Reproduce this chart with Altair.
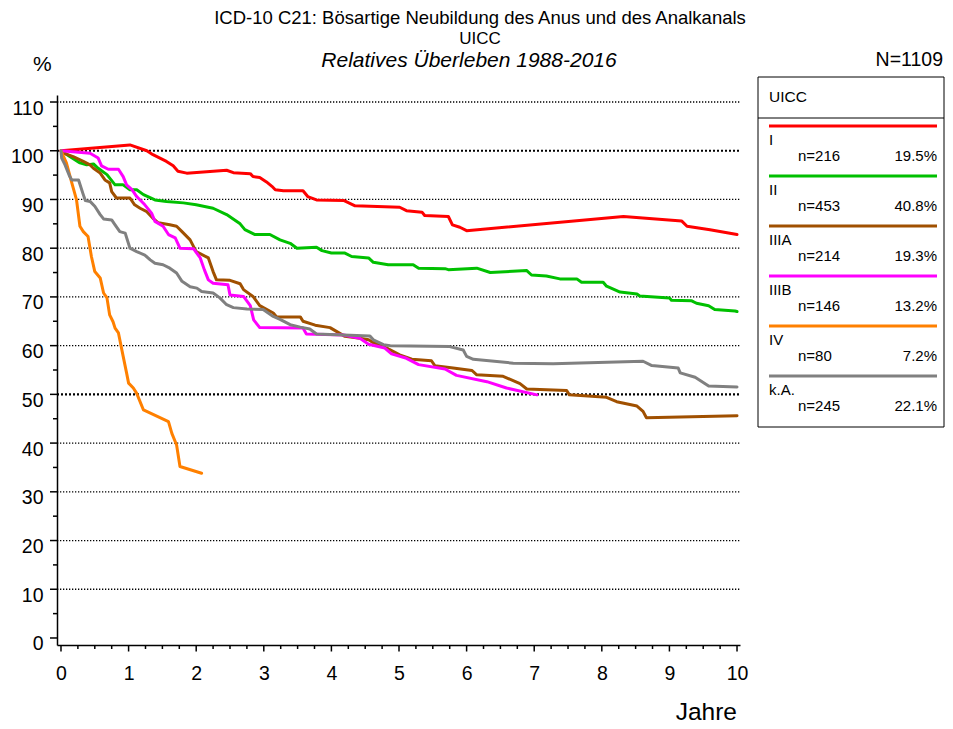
import altair as alt
import pandas as pd

FONT = "Liberation Sans"

title_line1 = "ICD-10 C21: Bösartige Neubildung des Anus und des Analkanals"
title_line2 = "UICC"
title_line3 = "Relatives Überleben 1988-2016"
y_unit = "%"
x_title = "Jahre"
total_text = "N=1109"
legend_title = "UICC"

groups = ["I", "II", "IIIA", "IIIB", "IV", "k.A."]
counts = [216, 453, 214, 146, 80, 245]
shares = ["19.5%", "40.8%", "19.3%", "13.2%", "7.2%", "22.1%"]
colors = ["#FF0000", "#00C000", "#A05000", "#FF00FF", "#FF8000", "#808080"]

x_ticks = [0, 1, 2, 3, 4, 5, 6, 7, 8, 9, 10]
y_ticks = [0, 10, 20, 30, 40, 50, 60, 70, 80, 90, 100, 110]
y_minor = [5, 15, 25, 35, 45, 55, 65, 75, 85, 95, 105]
x_minor = [q / 4 for q in range(41) if q % 4 != 0]
grid_values = [10, 20, 30, 40, 50, 60, 70, 80, 90, 100, 110]

curve_I = [(0, 100), (1.02, 101.2), (1.27, 100), (1.36, 99.2), (1.56, 97.8), (1.66, 96.9),
           (1.73, 95.8), (1.86, 95.4), (2.45, 96.0), (2.55, 95.5), (2.8, 95.3), (2.84, 94.7),
           (2.94, 94.5), (3.04, 93.6), (3.12, 92.7), (3.17, 92.0), (3.29, 91.8), (3.58, 91.8),
           (3.65, 90.6), (3.78, 89.9), (4.18, 89.8), (4.35, 88.7), (5.01, 88.4), (5.11, 87.7),
           (5.34, 87.4), (5.38, 86.7), (5.73, 86.5), (5.79, 84.8), (5.9, 84.3), (6.0, 83.6),
           (8.32, 86.5), (9.18, 85.6), (9.26, 84.5), (9.6, 83.8), (10.0, 82.8)]

curve_II = [(0, 100), (0.13, 98.8), (0.28, 97.5), (0.38, 97.1), (0.48, 97.3), (0.55, 96.4),
            (0.68, 95.1), (0.8, 93.0), (0.92, 93.0), (1.02, 92.0), (1.12, 92.0), (1.22, 91.0),
            (1.39, 89.9), (1.56, 89.6), (1.81, 89.3), (2.0, 88.9), (2.25, 88.2), (2.45, 86.9),
            (2.65, 85.0), (2.72, 83.8), (2.87, 82.8), (3.09, 82.8), (3.24, 81.7), (3.39, 81.0),
            (3.49, 80.0), (3.78, 80.2), (3.86, 79.5), (4.0, 79.0), (4.2, 79.0), (4.3, 78.3),
            (4.55, 78.0), (4.62, 77.1), (4.84, 76.6), (5.21, 76.6), (5.29, 75.9), (5.68, 75.8),
            (5.73, 75.6), (6.15, 75.9), (6.35, 75.0), (6.89, 75.4), (6.96, 74.5), (7.18, 74.3),
            (7.38, 73.7), (7.63, 73.7), (7.7, 73.0), (8.02, 73.0), (8.07, 72.2), (8.17, 71.6),
            (8.27, 71.0), (8.52, 70.6), (8.56, 70.2), (9.0, 69.8), (9.03, 69.3), (9.33, 69.2),
            (9.4, 68.7), (9.58, 68.2), (9.67, 67.4), (9.97, 67.1), (10.0, 67.0)]

curve_IIIA = [(0, 100), (0.06, 99.4), (0.18, 98.8), (0.33, 97.8), (0.43, 97.1), (0.48, 96.4),
              (0.58, 95.4), (0.65, 94.0), (0.72, 93.4), (0.75, 91.6), (0.82, 90.3), (1.02, 90.3),
              (1.09, 88.9), (1.17, 88.2), (1.27, 87.5), (1.37, 86.0), (1.44, 85.2), (1.61, 84.8),
              (1.71, 84.5), (1.79, 83.4), (1.91, 81.7), (2.0, 79.3), (2.18, 78.0), (2.25, 75.2),
              (2.3, 73.5), (2.5, 73.4), (2.65, 72.7), (2.7, 71.5), (2.84, 70.1), (2.94, 68.2),
              (3.14, 66.7), (3.19, 65.9), (3.54, 65.9), (3.58, 65.0), (3.76, 64.2), (3.98, 63.7),
              (4.2, 61.9), (4.42, 61.5), (4.55, 61.2), (4.62, 60.6), (4.82, 59.5), (5.01, 58.1),
              (5.19, 57.2), (5.48, 56.9), (5.53, 55.9), (5.8, 55.4), (6.08, 54.9), (6.15, 54.0),
              (6.54, 53.7), (6.79, 52.2), (6.89, 51.1), (7.48, 50.8), (7.52, 49.9), (8.07, 49.4),
              (8.22, 48.5), (8.52, 47.6), (8.61, 46.5), (8.66, 45.2), (10.0, 45.6)]

curve_IIIB = [(0, 100), (0.43, 99.5), (0.55, 98.5), (0.6, 96.9), (0.7, 96.2), (0.85, 96.2),
              (0.92, 94.7), (0.97, 93.0), (1.05, 92.0), (1.12, 90.6), (1.24, 88.9), (1.34, 87.2),
              (1.39, 85.5), (1.51, 84.5), (1.59, 82.8), (1.69, 82.1), (1.76, 80.0), (1.96, 79.9),
              (2.06, 78.0), (2.12, 75.6), (2.18, 73.5), (2.25, 72.8), (2.47, 72.5), (2.5, 70.4),
              (2.7, 70.1), (2.8, 68.2), (2.85, 65.3), (2.94, 63.7), (3.58, 63.6), (3.63, 62.4),
              (4.18, 62.2), (4.42, 61.5), (4.55, 60.3), (4.79, 59.5), (4.89, 58.3), (5.11, 57.4),
              (5.29, 56.1), (5.68, 55.2), (5.85, 53.9), (6.3, 52.6), (6.59, 51.3), (7.04, 49.9)]

curve_IV = [(0, 100), (0.08, 97.5), (0.16, 93.4), (0.23, 89.9), (0.28, 84.5), (0.33, 83.4),
            (0.4, 82.4), (0.45, 78.3), (0.5, 75.2), (0.58, 73.9), (0.63, 70.8), (0.68, 69.8),
            (0.72, 66.3), (0.77, 64.9), (0.8, 63.6), (0.85, 62.6), (0.92, 57.8), (0.97, 54.4),
            (1.0, 52.3), (1.07, 51.3), (1.12, 50.2), (1.22, 46.8), (1.59, 44.4), (1.64, 42.0),
            (1.71, 39.6), (1.76, 35.2), (2.08, 33.8)]

curve_kA = [(0, 100), (0.01, 98.5), (0.06, 97.1), (0.13, 94.7), (0.16, 94.0), (0.26, 94.0),
            (0.33, 91.0), (0.36, 89.8), (0.43, 89.6), (0.5, 88.6), (0.58, 86.9), (0.63, 86.0),
            (0.75, 85.8), (0.8, 84.8), (0.87, 83.4), (0.95, 83.1), (1.02, 80.0), (1.12, 79.3),
            (1.24, 78.6), (1.32, 77.6), (1.39, 76.9), (1.51, 76.6), (1.61, 75.9), (1.71, 74.9),
            (1.79, 73.2), (1.91, 72.1), (2.01, 71.8), (2.08, 71.1), (2.25, 70.8), (2.35, 69.8),
            (2.45, 68.4), (2.55, 67.8), (2.75, 67.5), (2.99, 67.4), (3.14, 66.0), (3.24, 65.4),
            (3.39, 64.3), (3.54, 63.8), (3.68, 63.4), (3.78, 62.4), (4.18, 62.2), (4.57, 62.0),
            (4.62, 61.2), (4.77, 60.2), (4.87, 60.0), (5.75, 59.8), (5.95, 59.1), (6.0, 57.8),
            (6.1, 57.2), (6.69, 56.4), (7.28, 56.3), (8.61, 56.8), (8.74, 55.9), (9.13, 55.4),
            (9.16, 54.4), (9.38, 53.5), (9.58, 51.7), (10.0, 51.5)]

curves = [curve_I, curve_II, curve_IIIA, curve_IIIB, curve_IV, curve_kA]

rows = []
for g, c in zip(groups, curves):
    for i, (t, v) in enumerate(c):
        rows.append({"group": g, "t": t, "v": v, "i": i})
df = pd.DataFrame(rows)

W, H = 683, 550
xs = alt.Scale(domain=[-0.059, 10.044], nice=False, zero=False)
ys = alt.Scale(domain=[-1.44, 111.44], nice=False, zero=False)
cs = alt.Scale(domain=groups, range=colors)
one = pd.DataFrame({"a": [0]})

x_axis = alt.Axis(
    values=x_ticks, ticks=False, tickSize=0, labelPadding=19, labelFontSize=19.5,
    labelFont=FONT, labelColor="black", domain=True, domainColor="black", domainWidth=1.5,
    grid=False, title="", labelFlush=False, labelOverlap=False, format="d")
y_axis = alt.Axis(
    values=y_ticks, ticks=False, tickSize=0, labelPadding=14, labelOffset=12,
    labelBaseline="alphabetic", labelFontSize=19.5, labelFont=FONT, labelColor="black",
    domain=True, domainColor="black", domainWidth=1.5, grid=False, title="",
    labelOverlap=False, labelFlush=False, format="d")

grid = alt.Chart(pd.DataFrame({"v": grid_values})).mark_rule(color="black").encode(
    y=alt.Y("v:Q", scale=ys, axis=y_axis),
    x=alt.value(0), x2=alt.value(W),
    strokeWidth=alt.condition("datum.v == 50 || datum.v == 100", alt.value(2.2), alt.value(1.3)),
    strokeDash=alt.condition("datum.v == 50 || datum.v == 100", alt.value([2, 2]), alt.value([1.3, 1.7])),
)

xmaj = alt.Chart(pd.DataFrame({"t": x_ticks})).mark_rule(color="black", strokeWidth=1.5).encode(
    x=alt.X("t:Q", scale=xs, axis=x_axis), y=alt.value(H), y2=alt.value(H + 6.5))
xmin = alt.Chart(pd.DataFrame({"t": x_minor})).mark_rule(color="black", strokeWidth=1.5).encode(
    x=alt.X("t:Q", scale=xs, axis=x_axis), y=alt.value(H), y2=alt.value(H + 4))
ymaj = alt.Chart(pd.DataFrame({"v": y_ticks})).mark_rule(color="black", strokeWidth=1.5).encode(
    y=alt.Y("v:Q", scale=ys, axis=y_axis), x=alt.value(-7), x2=alt.value(0))
ymin = alt.Chart(pd.DataFrame({"v": y_minor})).mark_rule(color="black", strokeWidth=1.5).encode(
    y=alt.Y("v:Q", scale=ys, axis=y_axis), x=alt.value(-4), x2=alt.value(0))

lines = alt.Chart(df).mark_line(strokeWidth=3, strokeJoin="round", strokeCap="round").encode(
    x=alt.X("t:Q", scale=xs, axis=x_axis),
    y=alt.Y("v:Q", scale=ys, axis=y_axis),
    color=alt.Color("group:N", scale=cs, legend=None),
    order=alt.Order("i:Q"),
)


def label(text, x, y, size, align="center", style="normal"):
    return alt.Chart(one).mark_text(
        text=text, fontSize=size, align=align, baseline="alphabetic", font=FONT,
        fontStyle=style, color="black").encode(x=alt.value(x), y=alt.value(y))


texts = [
    label(title_line1, 423, -71, 18.5),
    label(title_line2, 423, -51, 17),
    label(title_line3, 412, -28, 21, style="italic"),
    label(y_unit, -24, -24, 21, align="left"),
    label(total_text, 886, -29, 19.5, align="right"),
    label(x_title, 680, 625, 24.5, align="right"),
    label(legend_title, 712, 7, 15.5, align="left"),
]

box = alt.Chart(one).mark_rect(fillOpacity=0, stroke="black", strokeWidth=1).encode(
    x=alt.value(701), x2=alt.value(887), y=alt.value(-18), y2=alt.value(332))
divider = alt.Chart(one).mark_rule(color="black", strokeWidth=1).encode(
    x=alt.value(701), x2=alt.value(887), y=alt.value(23))

main = alt.layer(grid, xmaj, xmin, ymaj, ymin, lines, box, divider, *texts)

leg_df = pd.DataFrame({
    "group": groups,
    "slot": list(range(len(groups))),
    "ntext": ["n=" + str(n) for n in counts],
    "pct": shares,
})
ls = alt.Scale(domain=[0, 5], range=[31, 281])
leg_y = alt.Y("slot:Q", scale=ls, axis=None)
leg_lines = alt.Chart(leg_df).mark_rule(strokeWidth=3).encode(
    y=leg_y, x=alt.value(712), x2=alt.value(880),
    color=alt.Color("group:N", scale=cs, legend=None))
leg_lab = alt.Chart(leg_df).mark_text(align="left", baseline="alphabetic", dy=19, fontSize=15,
                                      font=FONT, color="black").encode(
    y=leg_y, x=alt.value(712), text="group:N")
leg_n = alt.Chart(leg_df).mark_text(align="left", baseline="alphabetic", dy=35, fontSize=15,
                                    font=FONT, color="black").encode(
    y=leg_y, x=alt.value(741), text="ntext:N")
leg_pct = alt.Chart(leg_df).mark_text(align="right", baseline="alphabetic", dy=35, fontSize=15,
                                      font=FONT, color="black").encode(
    y=leg_y, x=alt.value(880), text="pct:N")
legend = alt.layer(leg_lines, leg_lab, leg_n, leg_pct)

chart = alt.layer(main, legend).resolve_scale(y="independent").properties(
    width=W, height=H,
    autosize=alt.AutoSizeParams(type="none"),
    padding={"left": 49, "top": 87, "right": 205, "bottom": 79},
    background="white",
).configure_view(strokeWidth=0)

chart.save("out.html", embed_options={"renderer": "svg", "actions": False})
